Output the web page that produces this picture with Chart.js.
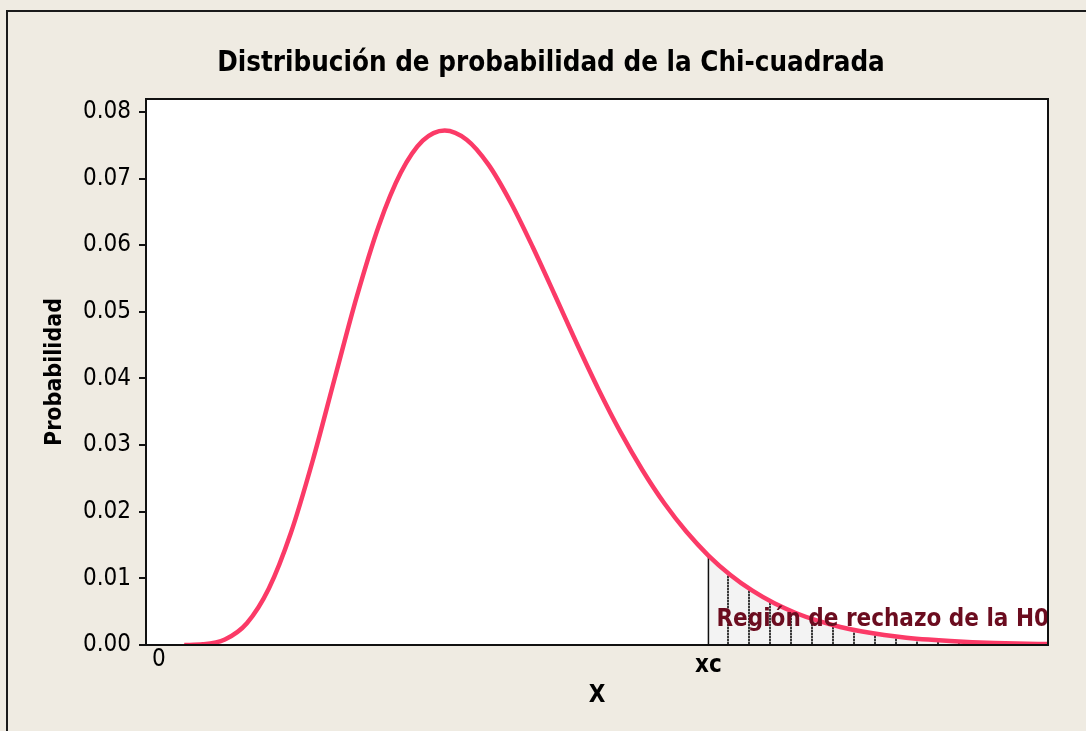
<!DOCTYPE html>
<html>
<head>
<meta charset="utf-8">
<script src="https://cdn.jsdelivr.net/npm/chart.js@4.4.1/dist/chart.umd.min.js"></script>
<style>
  html, body { margin: 0; padding: 0; background: #efebe2; }
  #wrap { width: 1086px; height: 731px; position: relative; }
</style>
</head>
<body>
<div id="wrap"><canvas id="c"></canvas></div>
<script>
// ---- data ----
const xValues = [1.15, 2, 3, 4, 5, 6, 7, 8, 9, 10, 11, 12, 13, 14, 15, 16, 17, 18, 19, 20,
  21, 22, 23, 24, 25, 26, 27, 28, 29, 30, 31, 32, 33, 34, 35, 36, 37, 38, 39, 40, 40.45];
const probValues = [0.000001, 0.000098, 0.00083, 0.00327, 0.00847, 0.0168, 0.02773, 0.04007, 0.05229, 0.0629,
  0.07087, 0.07569, 0.07723, 0.07584, 0.07206, 0.06646, 0.05978, 0.05261, 0.04532, 0.03835,
  0.03194, 0.02623, 0.02123, 0.01699, 0.01343, 0.01051, 0.00815, 0.00626, 0.00477, 0.00361,
  0.00271, 0.00202, 0.00149, 0.0011, 0.00081, 0.00059, 0.00043, 0.00031, 0.00022, 0.00016, 0.00014];
const xcValue = 25;
const xTickValues = [0, 25];
const xTickLabels = ['0', 'xc'];
const yTickValues = [0, 0.01, 0.02, 0.03, 0.04, 0.05, 0.06, 0.07, 0.08];
const titleText = 'Distribución de probabilidad de la Chi-cuadrada';
const yTitle = 'Probabilidad';
const xTitle = 'X';
const regionLabel = 'Región de rechazo de la H0';

// ---- build datasets ----
const curvePts = xValues.map((x, i) => ({ x: x, y: probValues[i] }));
const regionPts = curvePts.filter(p => p.x >= xcValue);
const xcIdx = xValues.indexOf(xcValue);
const xcLine = [{ x: xcValue, y: 0 }, { x: xcValue, y: probValues[xcIdx] }];

// hatch pattern for the rejection region
const pc = document.createElement('canvas');
pc.width = 21; pc.height = 3;
const pctx = pc.getContext('2d');
pctx.fillStyle = '#f3f3f3';
pctx.fillRect(0, 0, 21, 3);
pctx.fillStyle = '#3a3a3a';
pctx.fillRect(13, 0, 2, 2);
pctx.fillStyle = '#a8a8a8';
pctx.fillRect(13, 2, 2, 1);
const hatch = pctx.createPattern(pc, 'repeat');

const FONT = '"DejaVu Sans Condensed", "DejaVu Sans", sans-serif';

const framePlugin = {
  id: 'frame',
  beforeDraw(chart) {
    const ctx = chart.ctx;
    const a = chart.chartArea;
    ctx.save();
    ctx.fillStyle = '#efebe2';
    ctx.fillRect(0, 0, chart.width, chart.height);
    ctx.fillStyle = '#1a1a1a';
    ctx.fillRect(6, 10, 2, chart.height - 10);
    ctx.fillRect(6, 10, chart.width - 6, 2);
    ctx.fillStyle = '#ffffff';
    ctx.fillRect(a.left, a.top, a.right - a.left, a.bottom - a.top);
    ctx.restore();
  },
  afterDatasetsDraw(chart) {
    const ctx = chart.ctx;
    const xs = chart.scales.x, ys = chart.scales.y;
    ctx.save();
    ctx.font = 'bold 24px ' + FONT;
    ctx.fillStyle = '#6b0c1f';
    ctx.textAlign = 'left';
    ctx.textBaseline = 'alphabetic';
    ctx.fillText(regionLabel, xs.getPixelForValue(xcValue) + 8, ys.getPixelForValue(0.0028));
    ctx.restore();
  },
  afterDraw(chart) {
    const ctx = chart.ctx;
    const a = chart.chartArea;
    ctx.save();
    ctx.strokeStyle = '#111';
    ctx.lineWidth = 2;
    ctx.strokeRect(a.left, a.top, a.right - a.left, a.bottom - a.top);
    ctx.restore();
  }
};

new Chart(document.getElementById('c'), {
  type: 'line',
  data: {
    datasets: [
      {
        data: curvePts,
        borderColor: '#fb3a67',
        borderWidth: 4.5,
        pointRadius: 0,
        fill: false,
        cubicInterpolationMode: 'monotone',
        order: 0
      },
      {
        data: xcLine,
        borderColor: '#111',
        borderWidth: 1.5,
        pointRadius: 0,
        fill: false,
        order: 1
      },
      {
        data: regionPts,
        borderWidth: 0,
        borderColor: 'rgba(0,0,0,0)',
        backgroundColor: hatch,
        pointRadius: 0,
        fill: 'origin',
        cubicInterpolationMode: 'monotone',
        order: 2
      }
    ]
  },
  options: {
    responsive: true,
    maintainAspectRatio: false,
    animation: false,
    layout: { padding: { left: 54, right: 38, top: 0, bottom: 0 } },
    plugins: {
      legend: { display: false },
      tooltip: { enabled: false },
      title: {
        display: true,
        text: titleText,
        color: '#000',
        font: { family: FONT, size: 27.5, weight: 'bold', lineHeight: 1.2 },
        padding: { top: 47, bottom: 19 }
      }
    },
    scales: {
      x: {
        type: 'linear',
        min: -0.59,
        max: 40.45,
        afterFit(s) { s.height = 86; },
        afterBuildTicks(s) { s.ticks = xTickValues.map(v => ({ value: v })); },
        grid: { display: false, drawTicks: false },
        border: { display: true, color: '#111', width: 2 },
        ticks: {
          padding: 0,
          color: '#000',
          maxRotation: 0,
          autoSkip: false,
          callback: (v) => xTickLabels[xTickValues.indexOf(v)],
          font: (ctx) => (ctx.tick && ctx.tick.value === xcValue)
            ? { family: FONT, size: 24, weight: 'bold', lineHeight: 1.7 }
            : { family: FONT, size: 24, weight: 'normal', lineHeight: 1.2 }
        },
        title: {
          display: true,
          text: xTitle,
          color: '#000',
          font: { family: FONT, size: 24, weight: 'bold', lineHeight: 1.2 },
          padding: { top: 0, bottom: 21 }
        }
      },
      y: {
        type: 'linear',
        min: 0,
        max: 0.08195,
        afterFit(s) { s.width = 92; },
        afterBuildTicks(s) { s.ticks = yTickValues.map(v => ({ value: v })); },
        grid: { drawOnChartArea: false, drawTicks: true, tickLength: 7, color: '#111', lineWidth: 2 },
        border: { display: true, color: '#111', width: 2 },
        ticks: {
          padding: 8,
          color: '#000',
          includeBounds: false,
          callback: (v) => v.toFixed(2),
          font: { family: FONT, size: 24, weight: 'normal' }
        },
        title: {
          display: true,
          text: yTitle,
          color: '#000',
          font: { family: FONT, size: 23, weight: 'bold', lineHeight: 1.2 },
          padding: { top: -13, bottom: 0 }
        }
      }
    }
  },
  plugins: [framePlugin]
});
</script>
</body>
</html>
